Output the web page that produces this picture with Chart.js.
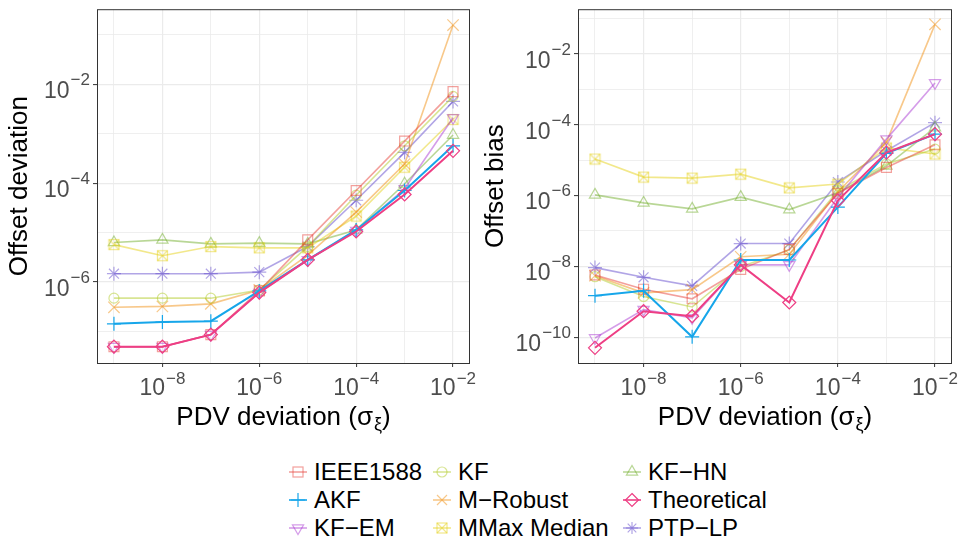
<!DOCTYPE html>
<html>
<head>
<meta charset="utf-8">
<script src="https://cdn.jsdelivr.net/npm/chart.js@4"></script>
<style>
  body { margin: 0; background: #fff; width: 964px; height: 541px; overflow: hidden; position: relative;
         font-family: "Liberation Sans", Arial, sans-serif; }
  #left { position: absolute; left: 0; top: 0; }
  #right { position: absolute; left: 482px; top: 0; }
  .item { position: absolute; font-size: 24px; color: #000; display: flex; align-items: center;
          height: 28px; white-space: nowrap; }
  .item svg { margin-right: 7px; }
</style>
</head>
<body>
<canvas id="left" width="482" height="440"></canvas>
<canvas id="right" width="482" height="440"></canvas>
<div id="legend"></div>
<script>
const FONT = '"Liberation Sans", Arial, sans-serif';

const pdv = [1e-9, 1e-8, 1e-7, 1e-6, 1e-5, 1e-4, 1e-3, 1e-2];
const names = ["IEEE1588", "AKF", "KF-EM", "KF", "M-Robust", "MMax Median", "KF-HN", "Theoretical", "PTP-LP"];

// Offset deviation (left panel)
const devIEEE = [4.9e-8, 4.9e-8, 8.6e-8, 6.6e-7, 7.1e-6, 7.1e-5, 7.1e-4, 7.1e-3];
const devAKF = [1.42e-7, 1.54e-7, 1.61e-7, 6.6e-7, 2.8e-6, 1.13e-5, 7.1e-5, 5.7e-4];
const devKFEM = [4.9e-8, 4.9e-8, 8.6e-8, 6.1e-7, 2.8e-6, 1.1e-5, 7.7e-5, 2.1e-3];
const devKF = [4.7e-7, 4.7e-7, 4.7e-7, 6.9e-7, 5.2e-6, 5.7e-5, 5.7e-4, 5.7e-3];
const devMRobust = [3.07e-7, 3.2e-7, 3.6e-7, 6.9e-7, 3.5e-6, 2.6e-5, 2.44e-4, 0.158];
const devMMax = [5.7e-6, 3.4e-6, 5.2e-6, 4.9e-6, 4.9e-6, 2.15e-5, 2.1e-4, 1.94e-3];
const devKFHN = [6.3e-6, 7.1e-6, 5.9e-6, 6.1e-6, 5.9e-6, 1.13e-5, 9.7e-5, 9.4e-4];
const devTheo = [4.9e-8, 4.9e-8, 8.6e-8, 6.1e-7, 2.8e-6, 1.05e-5, 5.9e-5, 4.5e-4];
const devPTP = [1.47e-6, 1.47e-6, 1.47e-6, 1.58e-6, 5.2e-6, 4.5e-5, 4.2e-4, 4.5e-3];

// Offset bias (right panel)
const biasIEEE = [5.7e-9, 2.26e-9, 1.21e-9, 8.2e-9, 3.0e-8, 1.16e-6, 6.2e-6, 2.7e-5];
const biasAKF = [1.48e-9, 2.04e-9, 1.02e-10, 1.51e-8, 1.51e-8, 4.7e-7, 1.55e-5, 5.4e-5];
const biasKFEM = [9.5e-11, 6.0e-10, 3.5e-10, 1.1e-8, 1.1e-8, 8.9e-7, 3.9e-5, 1.51e-3];
const biasKF = [5.1e-9, 1.41e-9, 7.1e-10, 9.8e-9, 2.9e-8, 1.38e-6, 7.8e-6, 2.04e-5];
const biasMRobust = [5.4e-9, 1.78e-9, 2.2e-9, 1.86e-8, 2.2e-8, 1.26e-6, 3.2e-5, 6.8e-2];
const biasMMax = [1.07e-5, 3.3e-6, 3.1e-6, 4.0e-6, 1.64e-6, 2.1e-6, 2.2e-5, 1.48e-5];
const biasKFHN = [1.04e-6, 6.2e-7, 4.2e-7, 9.0e-7, 4.0e-7, 1.2e-6, 6.9e-6, 8.2e-5];
const biasTheo = [5.0e-11, 5.4e-10, 3.9e-10, 1.1e-8, 9.5e-10, 7.2e-7, 1.62e-5, 5.4e-5];
const biasPTP = [9.2e-9, 4.9e-9, 2.8e-9, 4.4e-8, 4.4e-8, 2.4e-6, 1.83e-5, 1.14e-4];

const xPowers = [-9, -8, -7, -6, -5, -4, -3, -2];
const devPowers = [-7, -6, -5, -4, -3, -2, -1];
const biasPowers = [-10, -9, -8, -7, -6, -5, -4, -3, -2, -1];

const colors = {
  "IEEE1588": "rgba(232,65,58,0.5)",
  "AKF": "rgb(22,166,234)",
  "KF-EM": "rgba(172,60,212,0.5)",
  "KF": "rgba(178,204,40,0.5)",
  "M-Robust": "rgba(242,145,22,0.5)",
  "MMax Median": "rgba(230,210,24,0.5)",
  "KF-HN": "rgba(115,175,45,0.5)",
  "Theoretical": "rgb(238,62,132)",
  "PTP-LP": "rgba(100,76,205,0.5)"
};

// marker square with an X inside (MMax Median)
function boxCross(color) {
  const c = document.createElement("canvas");
  c.width = 13; c.height = 13;
  const g = c.getContext("2d");
  g.strokeStyle = color; g.lineWidth = 1.2;
  g.strokeRect(1.5, 1.5, 10, 10);
  g.beginPath(); g.moveTo(1.5, 1.5); g.lineTo(11.5, 11.5); g.moveTo(11.5, 1.5); g.lineTo(1.5, 11.5); g.stroke();
  return c;
}

const markers = {
  "IEEE1588": { style: "rect", r: 7 },
  "AKF": { style: "cross", r: 7 },
  "KF-EM": { style: "triangle", r: 6.5, rot: 180 },
  "KF": { style: "circle", r: 5 },
  "M-Robust": { style: "crossRot", r: 8 },
  "MMax Median": { style: boxCross(colors["MMax Median"]), r: 6 },
  "KF-HN": { style: "triangle", r: 6.5 },
  "Theoretical": { style: "rectRot", r: 6.5 },
  "PTP-LP": { style: "star", r: 7 }
};

const drawOrder = { "Theoretical": 0, "AKF": 1 };

function makeDatasets(series) {
  return names.map((name, i) => ({
    label: name,
    data: pdv.map((x, j) => ({ x: x, y: series[i][j] })),
    borderColor: colors[name],
    backgroundColor: "rgba(0,0,0,0)",
    pointBorderColor: colors[name],
    pointBackgroundColor: "rgba(0,0,0,0)",
    borderWidth: (name === "AKF" || name === "Theoretical") ? 2 : 1.6,
    pointBorderWidth: 1.2,
    pointStyle: markers[name].style,
    pointRadius: markers[name].r,
    pointRotation: markers[name].rot || 0,
    order: drawOrder[name] !== undefined ? drawOrder[name] : 2 + i,
    tension: 0,
    clip: false
  }));
}

function expOf(v) { return Math.round(Math.log10(v)); }

const labelPlugin = {
  id: "powerLabels",
  afterDraw(chart, args, opts) {
    const ctx = chart.ctx, a = chart.chartArea;
    const xs = chart.scales.x, ys = chart.scales.y;
    ctx.save();
    // panel border
    ctx.strokeStyle = "#333";
    ctx.lineWidth = 1;
    ctx.strokeRect(a.left + 0.5, a.top + 0.5, a.right - a.left - 1, a.bottom - a.top);

    ctx.fillStyle = "#4d4d4d";
    ctx.textBaseline = "alphabetic";
    ctx.textAlign = "left";
    function sized(base, ex) {
      ctx.font = "23px " + FONT;
      const wb = ctx.measureText(base).width;
      ctx.font = "17px " + FONT;
      const we = ctx.measureText(ex).width;
      return [wb, we];
    }
    // x labels
    xPowers.filter(p => p % 2 === 0).forEach(p => {
      const px = xs.getPixelForValue(Math.pow(10, p));
      const ex = "\u2212" + Math.abs(p);
      const [wb, we] = sized("10", ex);
      const x0 = px - (wb + we + 1) / 2;
      ctx.font = "23px " + FONT; ctx.fillText("10", x0, a.bottom + 32);
      ctx.font = "17px " + FONT; ctx.fillText(ex, x0 + wb + 1, a.bottom + 21);
    });
    // y labels
    opts.powers.filter(p => p % 2 === 0).forEach(p => {
      const py = ys.getPixelForValue(Math.pow(10, p));
      if (py < a.top || py > a.bottom) return;
      const ex = "\u2212" + Math.abs(p);
      const [wb, we] = sized("10", ex);
      const xr = a.left - 7;
      ctx.font = "17px " + FONT; ctx.fillText(ex, xr - we, py + 1);
      ctx.font = "23px " + FONT; ctx.fillText("10", xr - we - wb - 1, py + 14);
    });
    // y title
    ctx.fillStyle = "#000";
    ctx.font = "26px " + FONT;
    ctx.textAlign = "center";
    ctx.textBaseline = "middle";
    ctx.save();
    ctx.translate(opts.yTitleX, (a.top + a.bottom) / 2);
    ctx.rotate(-Math.PI / 2);
    ctx.fillText(opts.yTitle, 0, 0);
    ctx.restore();
    // x title with subscript
    ctx.textBaseline = "alphabetic";
    ctx.textAlign = "left";
    const t1 = "PDV deviation (\u03C3", t2 = "\u03BE", t3 = ")";
    ctx.font = "26px " + FONT; const w1 = ctx.measureText(t1).width, w3 = ctx.measureText(t3).width;
    ctx.font = "18px " + FONT; const w2 = ctx.measureText(t2).width;
    let x0 = (a.left + a.right) / 2 - (w1 + w2 + w3 + 1) / 2;
    const by = a.bottom + 62;
    ctx.font = "26px " + FONT; ctx.fillText(t1, x0, by);
    ctx.font = "18px " + FONT; ctx.fillText(t2, x0 + w1 + 1, by + 5);
    ctx.font = "26px " + FONT; ctx.fillText(t3, x0 + w1 + w2 + 1, by);
    ctx.restore();
  }
};

function gridColor(ctx) { return "#EBEBEB"; }
function tickCol(ctx) {
  return ctx.tick && expOf(ctx.tick.value) % 2 === 0 ? "#333" : "rgba(0,0,0,0)";
}
function gridWidth(ctx) {
  return ctx.tick && expOf(ctx.tick.value) % 2 === 0 ? 1.2 : 0.8;
}

function makeChart(id, series, yMin, yMax, powers, yTitle, yWidth, yTitleX) {
  return new Chart(document.getElementById(id), {
    type: "line",
    data: { datasets: makeDatasets(series) },
    options: {
      responsive: false,
      animation: false,
      layout: { padding: { top: 7, right: 12, left: 0, bottom: 0 } },
      plugins: {
        legend: { display: false },
        tooltip: { enabled: false },
        powerLabels: { powers: powers, yTitle: yTitle, yTitleX: yTitleX }
      },
      scales: {
        x: {
          type: "logarithmic",
          min: Math.pow(10, -9.35),
          max: Math.pow(10, -1.65),
          afterBuildTicks: s => { s.ticks = xPowers.map(p => ({ value: Math.pow(10, p) })); },
          afterFit: s => { s.height = 77; },
          ticks: { display: false },
          border: { display: false },
          grid: { color: gridColor, lineWidth: gridWidth, tickColor: tickCol, tickLength: 4, tickWidth: 1 }
        },
        y: {
          type: "logarithmic",
          min: yMin,
          max: yMax,
          afterBuildTicks: s => { s.ticks = powers.map(p => ({ value: Math.pow(10, p) })); },
          afterFit: s => { s.width = yWidth; },
          ticks: { display: false },
          border: { display: false },
          grid: { color: gridColor, lineWidth: gridWidth, tickColor: tickCol, tickLength: 4, tickWidth: 1 }
        }
      }
    },
    plugins: [labelPlugin]
  });
}

makeChart("left",
  [devIEEE, devAKF, devKFEM, devKF, devMRobust, devMMax, devKFHN, devTheo, devPTP],
  Math.pow(10, -7.64), Math.pow(10, -0.48), devPowers, "Offset deviation", 97, 20);

makeChart("right",
  [biasIEEE, biasAKF, biasKFEM, biasKF, biasMRobust, biasMMax, biasKFHN, biasTheo, biasPTP],
  Math.pow(10, -10.73), Math.pow(10, -0.74), biasPowers, "Offset bias", 96, 14);

// legend (column-major, 3 x 3)
function icon(name) {
  const c = colors[name];
  const w = 18, h = 28, cx = 9, cy = 14;
  let m = "";
  const st = `stroke="${c}" stroke-width="1.2" fill="none"`;
  switch (name) {
    case "IEEE1588": m = `<rect x="${cx - 5}" y="${cy - 5}" width="10" height="10" ${st}/>`; break;
    case "AKF": m = `<path d="M${cx - 7} ${cy}H${cx + 7}M${cx} ${cy - 7}V${cy + 7}" ${st}/>`; break;
    case "KF-EM": m = `<path d="M${cx - 5.6} ${cy - 3.2}L${cx + 5.6} ${cy - 3.2}L${cx} ${cy + 6.5}Z" ${st}/>`; break;
    case "KF": m = `<circle cx="${cx}" cy="${cy}" r="5" ${st}/>`; break;
    case "M-Robust": m = `<path d="M${cx - 5} ${cy - 5}L${cx + 5} ${cy + 5}M${cx + 5} ${cy - 5}L${cx - 5} ${cy + 5}" ${st}/>`; break;
    case "MMax Median": m = `<rect x="${cx - 5}" y="${cy - 5}" width="10" height="10" ${st}/><path d="M${cx - 5} ${cy - 5}L${cx + 5} ${cy + 5}M${cx + 5} ${cy - 5}L${cx - 5} ${cy + 5}" ${st}/>`; break;
    case "KF-HN": m = `<path d="M${cx - 5.6} ${cy + 3.2}L${cx + 5.6} ${cy + 3.2}L${cx} ${cy - 6.5}Z" ${st}/>`; break;
    case "Theoretical": m = `<path d="M${cx} ${cy - 6.5}L${cx + 6.5} ${cy}L${cx} ${cy + 6.5}L${cx - 6.5} ${cy}Z" ${st}/>`; break;
    case "PTP-LP": m = `<path d="M${cx - 6} ${cy}H${cx + 6}M${cx} ${cy - 6}V${cy + 6}M${cx - 4.3} ${cy - 4.3}L${cx + 4.3} ${cy + 4.3}M${cx + 4.3} ${cy - 4.3}L${cx - 4.3} ${cy + 4.3}" ${st}/>`; break;
  }
  return `<svg width="${w}" height="${h}"><line x1="0" y1="${cy}" x2="${w}" y2="${cy}" stroke="${c}" stroke-width="1.6"/>${m}</svg>`;
}

const legendCols = [298, 442, 632];
const legendRows = [472, 500, 528];
const legendLabels = ["IEEE1588", "AKF", "KF\u2212EM", "KF", "M\u2212Robust", "MMax Median", "KF\u2212HN", "Theoretical", "PTP\u2212LP"];
const legend = document.getElementById("legend");
names.forEach((name, i) => {
  const col = Math.floor(i / 3), row = i % 3;
  const d = document.createElement("div");
  d.className = "item";
  d.style.left = (legendCols[col] - 9) + "px";
  d.style.top = (legendRows[row] - 14) + "px";
  d.innerHTML = icon(name) + "<span>" + legendLabels[i] + "</span>";
  legend.appendChild(d);
});
</script>
</body>
</html>
